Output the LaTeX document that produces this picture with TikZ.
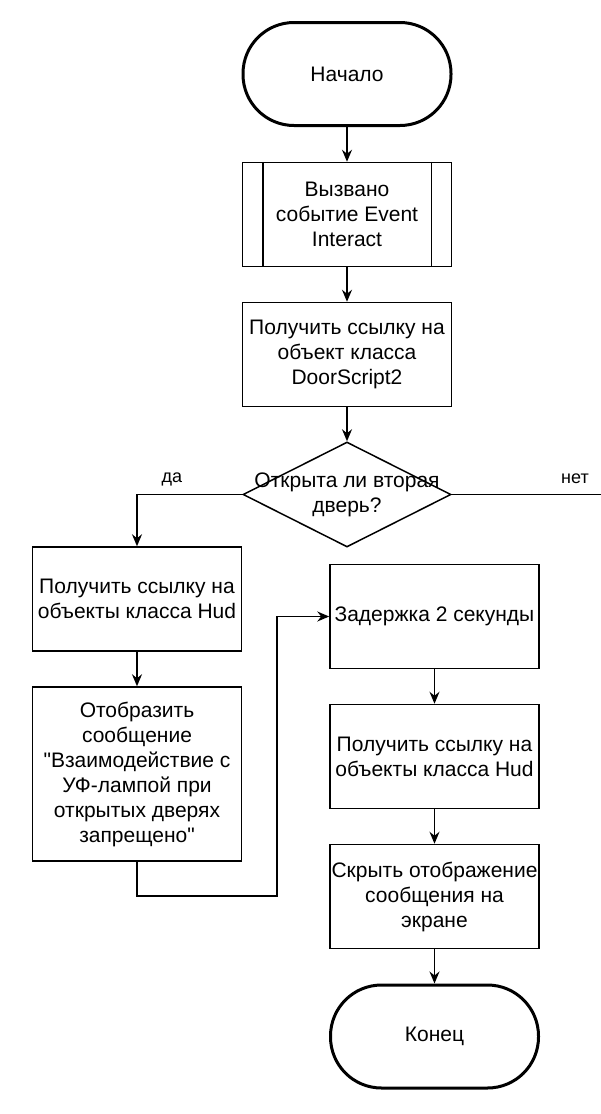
\documentclass[tikz,border=0pt]{standalone}
\usepackage{fontspec}
\setmainfont{Liberation Sans}[Ligatures=TeXOff]
\usetikzlibrary{shapes.geometric,arrows.meta}
\begin{document}
\begin{tikzpicture}[x=1pt,y=-1pt,
  every node/.style={font=\fontsize{21}{25}\selectfont, align=center},
  term/.style={draw, line width=3pt, rounded corners=51pt, minimum width=208pt, minimum height=103pt, inner sep=0pt},
  proc/.style={draw, line width=1.5pt, minimum width=209pt, minimum height=104pt, inner sep=0pt},
  dec/.style={draw, diamond, line width=1.5pt, minimum width=208pt, minimum height=105pt, inner sep=0pt, aspect=2},
  lbl/.style={font=\fontsize{18}{21}\selectfont},
  conn/.style={line width=1.5pt, -{Stealth[length=12pt,width=10pt,inset=4pt]}},
  plain/.style={line width=1.5pt}
]
\useasboundingbox (0,0) rectangle (601,1114);
\node[term] (start) at (347,74) {Начало};
\node[proc] (b2) at (347,214.5) {Вызвано\\событие Event\\Interact};
\draw[line width=1.5pt] ([xshift=21pt]b2.north west) -- ([xshift=21pt]b2.south west);
\draw[line width=1.5pt] ([xshift=-21pt]b2.north east) -- ([xshift=-21pt]b2.south east);
\node[proc] (b3) at (347,354.5) {Получить ссылку на\\объект класса\\DoorScript2};
\node[dec] (d) at (347,494.5) {};
\node (dtext) at (347,495) {Открыта ли вторая\\дверь?};
\node[proc] (b4) at (137,599) {Получить ссылку на\\объекты класса Hud};
\node[proc, minimum height=174pt] (b5) at (137,774) {Отобразить\\сообщение\\"Взаимодействие с\\УФ-лампой при\\открытых дверях\\запрещено"};
\node[proc] (b6) at (434.5,616.5) {Задержка 2 секунды};
\node[proc] (b7) at (434.5,756.5) {Получить ссылку на\\объекты класса Hud};
\node[proc] (b8) at (434.5,896.5) {Скрыть отображение\\сообщения на\\экране};
\node[term] (end) at (434.5,1036.5) {Конец};
\coordinate (noend) at (601,494.5);
\node[lbl] (yes) at (172,479) {да};
\node[lbl] (no) at (575,479) {нет};

\draw[conn] (start) -- (b2);
\draw[conn] (b2) -- (b3);
\draw[conn] (b3) -- (d);
\draw[conn] (d.west) -| (b4.north);
\draw[plain] (d.east) -- (noend);
\draw[conn] (b4) -- (b5);
\draw[conn] (b5.south) -- ++(0,34) -| (277,616.5) -- (b6.west);
\draw[conn] (b6) -- (b7);
\draw[conn] (b7) -- (b8);
\draw[conn] (b8) -- (end);
\end{tikzpicture}
\end{document}
